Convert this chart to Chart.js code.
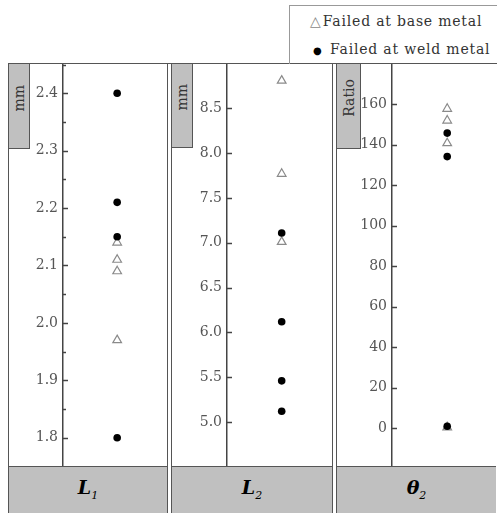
<!DOCTYPE html>
<html>
<head>
  <title>Failure location</title>
  <script src="https://cdn.jsdelivr.net/npm/chart.js@4/dist/chart.umd.min.js"></script>
  <style>
    body { margin: 0; background: #fff; }
    #wrap { position: relative; width: 497px; height: 513px; overflow: hidden; font-family: "DejaVu Serif", serif; }
    .topline { position: absolute; left: 8px; top: 63px; width: 489px; height: 0; border-top: 1.5px solid #555; }
    .panel { position: absolute; top: 63px; height: 460px; box-sizing: border-box; border: 1px solid #555; border-bottom: none; }
    .plot { position: absolute; left: 0; top: 0; height: 402px; }
    .tab {
      position: absolute; left: 0; top: 0; width: 21px; height: 85px; box-sizing: border-box;
      background: #c0c0c0; border-right: 1.5px solid #555; border-bottom: 1.5px solid #555;
      display: flex; align-items: center; justify-content: center; padding-bottom: 16px; z-index: 2;
    }
    .tab span { writing-mode: vertical-rl; transform: rotate(180deg); font-size: 14px; color: #333; }
    .foot {
      position: absolute; left: 0; right: 0; top: 402px; bottom: 0; background: #c0c0c0;
      border-top: 1.5px solid #555; text-align: center; padding-top: 9px; box-sizing: border-box;
    }
    .foot b { font-style: italic; font-size: 19px; color: #000; }
    .foot sub { font-size: 11px; font-weight: normal; }
    .legend {
      position: absolute; left: 289px; top: 5px; width: 220px; height: 58px;
      border: 1px solid #999; border-right: none; border-bottom: none;
      font-size: 14px; color: #333; letter-spacing: 0.8px; z-index: 3;
    }
    .legend div { position: absolute; white-space: nowrap; }
    .tri { color: #888; font-family: "DejaVu Sans", sans-serif; font-size: 14px; letter-spacing: 2px; }
    .dot { color: #000; font-family: "DejaVu Sans", sans-serif; font-size: 10px; letter-spacing: 3px; }
  </style>
</head>
<body>
<div id="wrap">
  <div class="legend">
    <div style="top:7px; left:20px"><span class="tri">△</span>Failed at base metal</div>
    <div style="top:35px; left:23px"><span class="dot">●</span> Failed at weld metal</div>
  </div>
  <div class="topline"></div>

  <div class="panel" style="left:8px; width:160px;">
    <div class="tab"><span>mm</span></div>
    <div class="plot" style="width:158px;"><canvas id="c1"></canvas></div>
    <div class="foot"><b>L<sub>1</sub></b></div>
  </div>
  <div class="panel" style="left:171px; width:162px;">
    <div class="tab" style="height:84px"><span>mm</span></div>
    <div class="plot" style="width:160px;"><canvas id="c2"></canvas></div>
    <div class="foot"><b>L<sub>2</sub></b></div>
  </div>
  <div class="panel" style="left:336px; width:170px;">
    <div class="tab" style="width:24px; height:85px"><span>Ratio</span></div>
    <div class="plot" style="width:161px;"><canvas id="c3"></canvas></div>
    <div class="foot" style="right:9px"><b>θ<sub>2</sub></b></div>
  </div>
</div>

<script>
  // values
  var l1Base = [2.14, 2.11, 2.09, 1.97];
  var l1Weld = [2.40, 2.21, 2.15, 1.80];
  var l2Base = [8.81, 7.77, 7.01];
  var l2Weld = [7.11, 6.12, 5.46, 5.12];
  var t2Base = [157.7, 151.9, 140.7, 0.5];
  var t2Weld = [145.7, 134.1, 1.0];

  // tick marks point into the plot, not out of it
  var inwardTicks = {
    id: 'inwardTicks',
    afterDraw: function (chart) {
      var y = chart.scales.y, ctx = chart.ctx, left = chart.chartArea.left;
      var minor = chart.options.plugins.inwardTicks.minor;
      ctx.save();
      ctx.strokeStyle = '#444';
      ctx.lineWidth = 1.5;
      y.ticks.forEach(function (t) {
        var py = Math.round(y.getPixelForValue(t.value)) + 0.5;
        var len = (minor && t.label === '') ? 3 : 5;
        ctx.beginPath();
        ctx.moveTo(left, py);
        ctx.lineTo(left + len, py);
        ctx.stroke();
      });
      ctx.restore();
    }
  };

  function pts(vals) {
    return vals.map(function (v) { return { x: 1, y: v }; });
  }

  function makeChart(id, base, weld, yMin, yMax, step, axisW, label, minor) {
    return new Chart(document.getElementById(id), {
      type: 'scatter',
      data: {
        datasets: [{
          label: 'Failed at weld metal',
          data: pts(weld),
          pointStyle: 'circle',
          pointRadius: 3.8,
          backgroundColor: '#000',
          borderWidth: 0
        }, {
          label: 'Failed at base metal',
          data: pts(base),
          pointStyle: 'triangle',
          pointRadius: 5,
          backgroundColor: 'rgba(255,255,255,0)',
          borderColor: '#8a8a8a',
          borderWidth: 1.2
        }]
      },
      options: {
        responsive: true,
        maintainAspectRatio: false,
        animation: false,
        layout: { padding: 0, autoPadding: false },
        plugins: {
          legend: { display: false },
          tooltip: { enabled: false },
          inwardTicks: { minor: minor }
        },
        scales: {
          x: { type: 'linear', min: 0, max: 1.92, display: false },
          y: {
            min: yMin,
            max: yMax,
            border: { display: true, color: '#444', width: 1.5 },
            grid: { drawOnChartArea: false, drawTicks: false },
            ticks: {
              stepSize: step,
              includeBounds: false,
              autoSkip: false,
              padding: 5,
              color: '#555',
              font: { family: 'DejaVu Serif', size: 14 },
              callback: label
            },
            afterFit: function (s) {
              s.width = axisW;
              s.paddingTop = 0;
              s.paddingBottom = 0;
            }
          }
        }
      },
      plugins: [inwardTicks]
    });
  }

  makeChart('c1', l1Base, l1Weld, 1.7507, 2.451, 0.05, 54, function (v) {
    return Math.round(v * 20) % 2 === 0 ? v.toFixed(1) : '';
  }, true);
  makeChart('c2', l2Base, l2Weld, 4.51, 8.995, 0.5, 55, function (v) {
    return v.toFixed(1);
  }, false);
  makeChart('c3', t2Base, t2Weld, -18.6, 179.8, 20, 55, function (v) {
    return String(v);
  }, false);
</script>
</body>
</html>
